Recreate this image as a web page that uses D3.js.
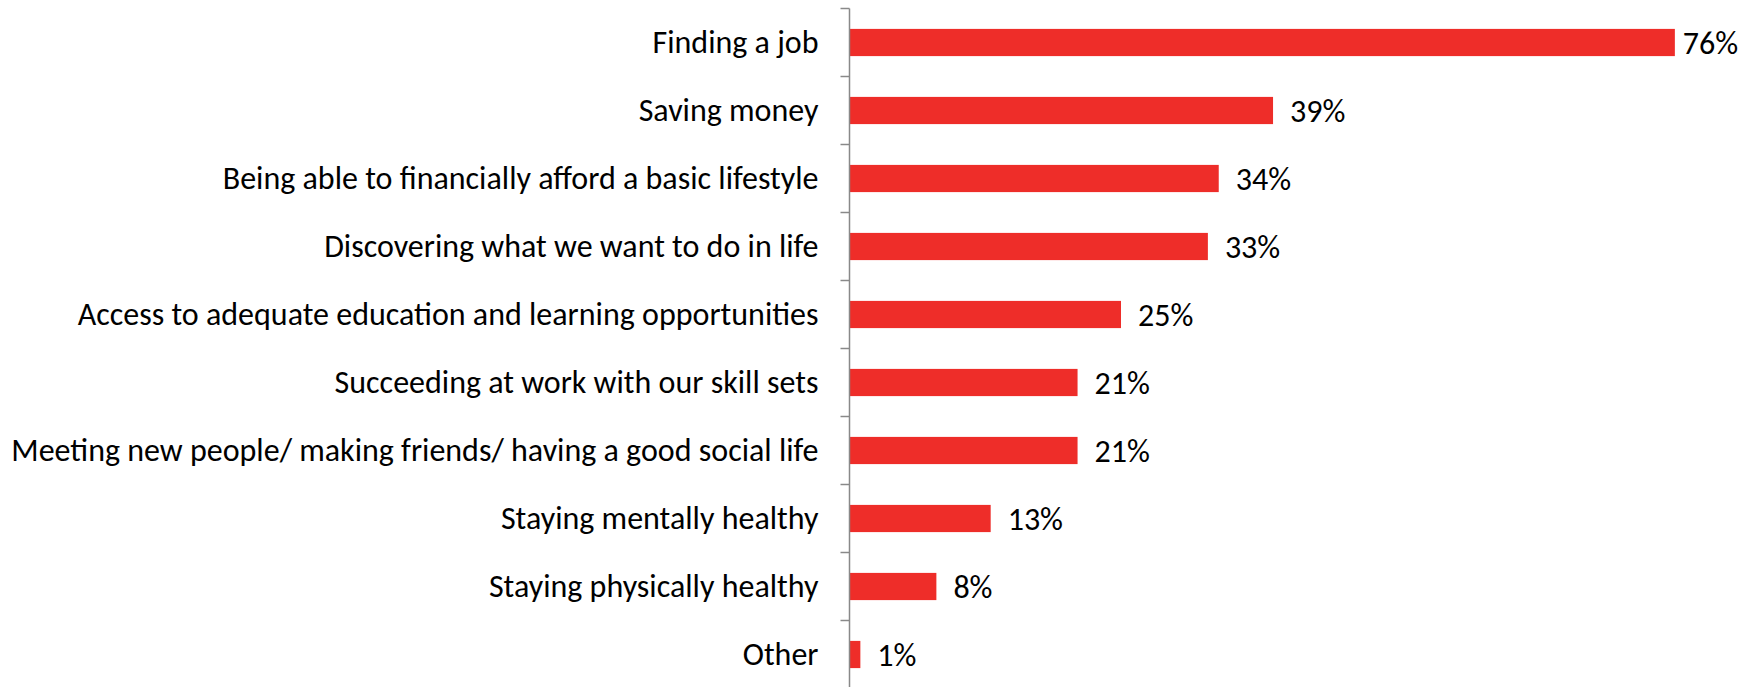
<!DOCTYPE html>
<html>
<head>
<meta charset="utf-8">
<script src="https://cdn.jsdelivr.net/npm/d3@7/dist/d3.min.js"></script>
<style>
  html, body { margin: 0; padding: 0; background: #fff; }
  svg { display: block; }
  text { font-family: Carlito, "Open Sans", "Noto Sans", sans-serif; fill: #000; }
</style>
</head>
<body>
<svg id="chart" width="1751" height="687"></svg>
<script>
// Survey answers, in display order (top to bottom)
const categories = [
  "Finding a job",
  "Saving money",
  "Being able to financially afford a basic lifestyle",
  "Discovering what we want to do in life",
  "Access to adequate education and learning opportunities",
  "Succeeding at work with our skill sets",
  "Meeting new people/ making friends/ having a good social life",
  "Staying mentally healthy",
  "Staying physically healthy",
  "Other"
];
// Share of respondents, percent
const values = [76, 39, 34, 33, 25, 21, 21, 13, 8, 1];
const valueLabels = ["76%", "39%", "34%", "33%", "25%", "21%", "21%", "13%", "8%", "1%"];

(function () {
  const H = 687;
  const axisX = 849.5;
  const plotTop = 8.5, plotBottom = 688.5;
  const labelRightLimit = 1735;
  const fontSize = 32;

  const svg = d3.select("#chart");

  const x = d3.scaleLinear().domain([0, 80]).range([axisX, axisX + 868.8]);
  const y = d3.scaleBand().domain(categories).range([plotTop, plotBottom])
    .paddingInner(0.6).paddingOuter(0.3);

  // Bars
  svg.append("g").selectAll("rect")
    .data(categories)
    .join("rect")
    .attr("x", x(0))
    .attr("y", d => y(d))
    .attr("width", (d, i) => x(values[i]) - x(0))
    .attr("height", y.bandwidth())
    .attr("fill", "#EE2D29");

  // Category axis: labels via d3.axisLeft, tick marks at band boundaries
  const axis = d3.axisLeft(y).tickSize(0).tickPadding(31);
  const gAxis = svg.append("g")
    .attr("transform", `translate(${axisX},0)`)
    .call(axis);
  gAxis.select(".domain").remove();
  gAxis.attr("font-family", null).attr("font-size", null);
  gAxis.selectAll("text")
    .attr("font-size", fontSize)
    .attr("dy", "0.33em")
    .attr("fill", "#000");

  const step = y.step();
  const boundaries = d3.range(categories.length + 1).map(i => plotTop + i * step);
  svg.append("g").selectAll("line")
    .data(boundaries)
    .join("line")
    .attr("x1", axisX - 9).attr("x2", axisX)
    .attr("y1", d => d).attr("y2", d => d)
    .attr("stroke", "#898989").attr("stroke-width", 1.5);
  svg.append("line")
    .attr("x1", axisX).attr("x2", axisX)
    .attr("y1", plotTop).attr("y2", H)
    .attr("stroke", "#898989").attr("stroke-width", 1.5);

  // Value labels after each bar; pulled closer to the bar near the right edge
  const vl = svg.append("g").selectAll("text")
    .data(categories)
    .join("text")
    .attr("font-size", fontSize)
    .attr("dy", "0.33em")
    .attr("y", d => y(d) + y.bandwidth() / 2 + 1)
    .text((d, i) => valueLabels[i]);
  vl.each(function (d, i) {
    const w = this.getComputedTextLength();
    const end = x(values[i]);
    const px = Math.min(end + 17, Math.max(end + 8, labelRightLimit - w));
    d3.select(this).attr("x", px);
  });
})();
</script>
</body>
</html>
